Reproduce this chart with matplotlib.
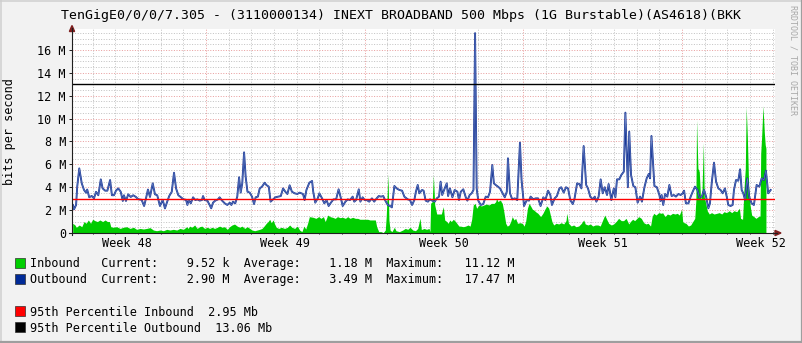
import numpy as np
import matplotlib
matplotlib.use("Agg")
import matplotlib.pyplot as plt
from matplotlib.lines import Line2D
from matplotlib.patches import Rectangle, Polygon

# ---------------- data (time in days since start of week 48, values in Mbit/s) -------------
out_day = [1.13, 1.18, 1.27, 1.32, 1.41, 1.52, 1.62, 1.71, 1.76, 1.85, 1.96, 2.06, 2.15, 2.25, 2.36,
           2.44, 2.55, 2.65, 2.77, 2.85, 2.94, 3.03, 3.13, 3.24, 3.33, 3.38, 3.47, 3.57, 3.68, 3.79,
           3.91, 4.01, 4.16, 4.27, 4.35, 4.44, 4.53, 4.65, 4.75, 4.85, 4.97, 5.09, 5.19, 5.29, 5.38,
           5.49, 5.59, 5.68, 5.78, 5.88, 6.0, 6.12, 6.18, 6.24, 6.33, 6.43, 6.53, 6.62, 6.72, 6.82,
           6.87, 6.94, 7.06, 7.16, 7.23, 7.31, 7.41, 7.53, 7.6, 7.71, 7.83, 7.94, 8.05, 8.12, 8.19,
           8.29, 8.38, 8.46, 8.53, 8.6, 8.68, 8.75, 8.83, 8.93, 9.03, 9.12, 9.19, 9.29, 9.37, 9.47,
           9.59, 9.66, 9.77, 9.85, 9.96, 10.06, 10.18, 10.3, 10.4, 10.5, 10.59, 10.69, 10.79, 10.91,
           11.03, 11.13, 11.28, 11.35, 11.43, 11.49, 11.56, 11.68, 11.73, 11.82, 11.93, 12.0, 12.12,
           12.22, 12.32, 12.41, 12.51, 12.62, 12.74, 12.85, 12.94, 13.03, 13.15, 13.25, 13.35, 13.47,
           13.54, 13.62, 13.74, 13.81, 13.91, 14.0, 14.09, 14.2, 14.32, 14.42, 14.53, 14.62, 14.72,
           14.82, 14.91, 15.02, 15.12, 15.2, 15.31, 15.41, 15.53, 15.65, 15.75, 15.9, 16.0, 16.09,
           16.19, 16.26, 16.34, 16.41, 16.53, 16.6, 16.69, 16.79, 16.88, 16.98, 17.09, 17.18, 17.28,
           17.35, 17.42, 17.53, 17.62, 17.68, 17.76, 17.87, 17.97, 18.09, 18.16, 18.24, 18.35, 18.46,
           18.53, 18.63, 18.72, 18.8, 18.87, 18.94, 19.01, 19.12, 19.23, 19.34, 19.44, 19.53, 19.63,
           19.7, 19.78, 19.88, 19.97, 20.07, 20.18, 20.27, 20.32, 20.41, 20.51, 20.62, 20.73, 20.85,
           20.92, 21.03, 21.15, 21.25, 21.32, 21.44, 21.54, 21.65, 21.76, 21.88, 21.97, 22.09, 22.19,
           22.26, 22.38, 22.48, 22.59, 22.67, 22.78, 22.88, 22.97, 23.07, 23.18, 23.26, 23.37, 23.47,
           23.56, 23.66, 23.77, 23.85, 23.95, 24.06, 24.15, 24.22, 24.32, 24.41, 24.5, 24.59, 24.69,
           24.76, 24.88, 24.99, 25.06, 25.13, 25.23, 25.32, 25.43, 25.5, 25.61, 25.67, 25.75, 25.85,
           25.94, 26.04, 26.15, 26.23, 26.34, 26.44, 26.53, 26.59, 26.65, 26.78, 26.89, 27.0, 27.05,
           27.1, 27.17, 27.25, 27.35, 27.44, 27.54, 27.64, 27.73, 27.84, 27.94, 28.03, 28.09, 28.17,
           28.28, 28.38, 28.47, 28.57, 28.68, 28.76, 28.87, 28.97, 29.06, 29.16, 29.23, 29.31, 29.41,
           29.5, 29.6, 29.7, 29.79, 29.89, 29.97, 30.04, 30.14, 30.23, 30.29, 30.38, 30.48, 30.56,
           30.63, 30.7, 30.78, 30.88, 30.96, 31.07, 31.17, 31.29, 31.41, 31.51, 31.61, 31.7, 31.8,
           31.91]
out_val = [2.45, 2.07, 2.45, 4.05, 5.65, 4.34, 3.76, 3.52, 3.8, 3.12, 3.24, 3.03, 3.6, 3.3, 4.69,
           3.9, 3.7, 3.7, 4.63, 3.3, 3.3, 3.7, 3.9, 3.6, 2.8, 3.3, 2.8, 3.38, 3.15, 3.3,
           3.15, 2.95, 2.9, 2.36, 3.0, 3.8, 3.15, 4.34, 3.38, 3.3, 2.36, 2.9, 2.15, 2.75, 3.24,
           3.6, 5.27, 3.9, 3.3, 3.15, 2.95, 2.9, 2.45, 2.9, 2.59, 3.12, 2.88, 2.94, 2.83, 2.88,
           3.23, 2.88, 2.83, 2.45, 2.16, 2.65, 2.83, 2.94, 3.12, 2.83, 2.59, 2.45, 2.65, 2.45, 2.74,
           2.59, 3.18, 4.87, 3.53, 4.34, 7.05, 4.92, 3.61, 3.53, 3.18, 2.53, 3.12, 3.18, 3.9, 4.05,
           4.4, 4.2, 4.05, 2.74, 2.94, 3.12, 3.18, 3.23, 3.9, 3.61, 3.41, 4.17, 3.61, 3.47,
           3.41, 3.53, 3.41, 2.88, 3.76, 4.05, 4.4, 4.55, 3.61, 2.65, 3.03, 3.47, 3.03,
           2.59, 2.88, 2.36, 2.65, 2.94, 2.94, 3.82, 3.12, 2.36, 2.74, 2.94, 2.88, 3.18,
           2.74, 2.88, 3.82, 2.74, 3.12, 2.88, 2.88, 2.74, 3.03, 2.74, 3.03, 3.23, 3.18,
           3.23, 2.83, 2.45, 2.36, 2.24, 4.11, 3.9, 3.76, 3.7, 3.18, 2.94, 2.88, 2.45,
           2.88, 3.61, 4.2, 3.47, 3.76, 3.7, 2.83, 2.74, 2.94, 2.83, 2.74, 3.03, 3.18,
           4.49, 3.32, 3.9, 4.34, 3.23, 3.9, 3.12, 3.76, 3.61, 2.88, 3.61, 3.82, 3.12,
           2.83, 3.32, 3.47, 3.76, 17.47, 3.9, 2.83, 2.45, 2.53, 3.18, 3.12, 3.61, 5.94,
           4.34, 4.2, 4.05, 3.9, 3.53, 3.12, 3.61, 6.53, 3.47, 2.94, 3.03, 2.88, 7.9,
           4.63, 2.36, 2.88, 2.83, 3.18, 2.94, 3.03, 3.03, 2.36, 3.12, 2.88, 3.7, 3.32,
           2.45, 3.03, 3.23, 3.9, 4.0, 3.53, 4.0, 3.9, 2.88, 2.53, 3.03, 4.34, 4.28,
           3.9, 7.6, 4.2, 3.9, 3.18, 2.94, 3.18, 2.74, 3.18, 4.69, 3.47, 4.0, 3.32,
           4.28, 2.88, 3.9, 3.12, 4.69, 4.69, 5.07, 5.36, 10.52, 4.0, 8.86, 5.07, 4.11,
           4.0, 2.65, 3.18, 2.74, 4.0, 4.78, 5.16, 4.78, 8.48, 4.11, 4.0, 3.32, 2.8,
           3.32, 2.45, 3.41, 3.18, 4.2, 3.23, 3.32, 3.18, 3.41, 3.32, 3.47, 3.7, 2.59,
           2.59, 3.18, 3.61, 4.05, 3.76, 3.12, 3.18, 3.76, 3.18, 2.16, 2.59, 4.4, 6.15,
           4.49, 3.9, 3.76, 3.47, 3.9, 3.18, 2.45, 2.36, 2.45, 3.76, 4.63, 4.57, 5.57,
           3.76, 3.47, 2.88, 4.78, 3.18, 2.59, 2.45, 4.2, 4.05, 4.78, 4.63, 5.45, 3.47,
           3.76]

in_day = [1.12, 1.22, 1.28, 1.41, 1.52, 1.62, 1.71, 1.81, 1.91, 2.0, 2.1, 2.21, 2.32, 2.44, 2.55,
          2.65, 2.74, 2.8, 2.91, 3.06, 3.21, 3.35, 3.5, 3.65, 3.8, 3.94, 4.09, 4.24, 4.38, 4.53,
          4.68, 4.82, 4.97, 5.12, 5.27, 5.41, 5.56, 5.71, 5.85, 6.0, 6.15, 6.21, 6.28, 6.38, 6.5,
          6.61, 6.72, 6.82, 6.94, 7.06, 7.16, 7.27, 7.38, 7.5, 7.6, 7.71, 7.82, 7.94, 8.04, 8.15,
          8.26, 8.38, 8.48, 8.59, 8.71, 8.82, 8.93, 9.03, 9.15, 9.26, 9.37, 9.47, 9.56, 9.66, 9.74,
          9.81, 9.88, 9.96, 10.03, 10.1, 10.21, 10.32, 10.47, 10.59, 10.69, 10.79, 10.91, 11.03,
          11.13, 11.23, 11.32, 11.4, 11.49, 11.56, 11.73, 11.85, 11.97, 12.07, 12.18, 12.26, 12.37,
          12.47, 12.59, 12.7, 12.8, 12.91, 13.03, 13.15, 13.25, 13.35, 13.47, 13.59, 13.69, 13.79,
          13.91, 14.03, 14.13, 14.23, 14.35, 14.47, 14.53, 14.62, 14.72, 14.82, 14.91, 14.95, 15.03,
          15.07, 15.12, 15.2, 15.31, 15.38, 15.53, 15.68, 15.79, 15.9, 16.0, 16.12, 16.24, 16.34,
          16.44, 16.5, 16.62, 16.73, 16.84, 16.88, 16.91, 16.98, 17.03, 17.09, 17.18, 17.28, 17.38,
          17.47, 17.53, 17.62, 17.68, 17.76, 17.82, 17.91, 18.01, 18.09, 18.16, 18.23, 18.35, 18.45,
          18.56, 18.65, 18.72, 18.79, 18.87, 18.94, 19.04, 19.15, 19.26, 19.38, 19.48, 19.59, 19.71,
          19.78, 19.82, 19.88, 19.97, 20.07, 20.14, 20.22, 20.29, 20.37, 20.44, 20.51, 20.59, 20.66,
          20.74, 20.85, 20.95, 21.03, 21.1, 21.18, 21.25, 21.32, 21.4, 21.47, 21.54, 21.64, 21.76,
          21.86, 21.97, 22.04, 22.12, 22.19, 22.26, 22.34, 22.44, 22.56, 22.67, 22.78, 22.88, 22.92,
          22.99, 23.11, 23.22, 23.32, 23.44, 23.56, 23.66, 23.73, 23.85, 23.95, 24.06, 24.17, 24.29,
          24.39, 24.5, 24.59, 24.69, 24.76, 24.88, 24.98, 25.09, 25.2, 25.32, 25.42, 25.53, 25.65,
          25.72, 25.82, 25.91, 26.01, 26.09, 26.2, 26.31, 26.41, 26.5, 26.61, 26.68, 26.75, 26.85,
          26.97, 27.09, 27.14, 27.25, 27.35, 27.47, 27.58, 27.69, 27.79, 27.88, 27.98, 28.03, 28.09,
          28.17, 28.28, 28.38, 28.47, 28.56, 28.61, 28.64, 28.7, 28.76, 28.82, 28.88, 28.94, 28.98,
          29.06, 29.11, 29.2, 29.3, 29.41, 29.53, 29.64, 29.75, 29.85, 29.97, 30.08, 30.19, 30.29,
          30.41, 30.53, 30.58, 30.67, 30.73, 30.79, 30.83, 30.88, 30.94, 31.0, 31.07, 31.17, 31.26,
          31.36, 31.44, 31.47, 31.51, 31.57, 31.63, 31.67, 31.7]
in_val = [0.85, 0.7, 0.5, 0.7, 0.55, 1.0, 0.85, 1.14, 0.85, 1.2, 1.08, 1.0, 1.14, 1.0, 1.14,
          1.0, 1.0, 0.55, 0.5, 0.55, 0.4, 0.5, 0.55, 0.4, 0.5, 0.32, 0.4, 0.35, 0.4, 0.47,
          0.26, 0.2, 0.26, 0.2, 0.32, 0.26, 0.32, 0.26, 0.4, 0.32, 0.55, 0.4, 0.6, 0.5, 0.7,
          0.4, 0.55, 0.6, 0.4, 0.5, 0.4, 0.5, 0.4, 0.5, 0.6, 0.5, 0.55, 0.32, 0.55, 0.7,
          0.78, 0.6, 0.5, 0.6, 0.4, 0.55, 0.4, 0.26, 0.2, 0.26, 0.32, 0.4, 0.6, 0.85, 1.0,
          1.2, 0.9, 1.14, 0.78, 0.5, 0.4, 0.5, 0.4, 0.5, 0.7, 0.5, 0.4, 0.6,
          0.26, 0.12, 0.6, 0.35, 0.9, 1.43, 1.37, 1.28, 1.43, 1.28, 1.43, 1.0, 1.57,
          1.43, 1.37, 1.28, 1.43, 1.34, 1.37, 1.28, 1.43, 1.28, 1.37, 1.28, 1.28, 1.2,
          1.2, 1.2, 1.2, 1.14, 1.14, 1.14, 0.55, 0.12, 0.12, 0.03, 0.26, 1.43, 5.16,
          1.14, 0.26, 0.12, 0.5, 0.2, 0.12, 0.26, 0.4, 0.32, 0.5, 0.26, 0.2, 0.4,
          1.3, 0.3, 0.4, 0.32, 0.4, 0.12, 2.6, 2.74, 5.07, 2.45, 1.66, 1.66, 1.66,
          2.3, 1.14, 1.0, 0.85, 1.14, 1.0, 1.2, 1.0, 0.78, 0.6, 0.6, 0.55, 0.6,
          0.7, 0.6, 1.2, 2.45, 2.59, 2.16, 2.45, 2.36, 2.45, 2.53, 2.45, 2.59, 2.59,
          2.74, 3.03, 2.74, 2.88, 2.59, 1.86, 0.85, 0.6, 0.7, 1.0, 1.43, 1.14, 1.28,
          0.85, 0.9, 0.85, 0.6, 1.0, 2.16, 2.59, 2.36, 2.07, 2.0, 1.86, 1.72, 1.43,
          1.72, 2.16, 2.36, 2.16, 1.57, 1.0, 0.7, 0.85, 0.79, 0.9, 0.79, 1.08, 1.72,
          0.85, 0.61, 0.7, 0.55, 0.61, 0.85, 1.14, 0.79, 0.7, 0.79, 0.61, 0.7, 0.7,
          0.61, 1.14, 1.57, 1.14, 0.85, 0.7, 0.79, 1.0, 1.28, 1.08, 1.08, 1.28, 0.79,
          1.0, 1.2, 1.08, 1.28, 1.43, 1.28, 0.9, 0.79, 0.85, 0.61, 1.43, 1.72, 1.57,
          1.78, 1.72, 1.78, 1.43, 1.66, 1.57, 1.72, 1.66, 1.72, 1.57, 2.07, 0.99, 0.9,
          0.85, 0.61, 0.7, 0.99, 1.28, 2.88, 9.88, 5.65, 5.36, 2.88, 3.76, 7.9, 3.15,
          2.45, 1.95, 1.66, 1.78, 1.66, 1.72, 1.78, 1.66, 1.86, 1.78, 1.95, 1.78, 1.95,
          1.86, 2.16, 1.28, 1.2, 3.76, 5.65, 11.04, 8.42, 4.0, 2.45, 1.57, 1.43, 1.28,
          1.43, 1.49, 6.96, 8.4, 11.12, 8.77, 7.69, 7.4]

pct95_in = 2.95
pct95_out = 13.06
week_names = ["Week 48", "Week 49", "Week 50", "Week 51", "Week 52"]
week_starts = [0, 7, 14, 21, 28]
ytick_vals = [0, 2, 4, 6, 8, 10, 12, 14, 16]
ytick_labels = ["0", "2 M", "4 M", "6 M", "8 M", "10 M", "12 M", "14 M", "16 M"]

title = "TenGigE0/0/0/7.305 - (3110000134) INEXT BROADBAND 500 Mbps (1G Burstable)(AS4618)(BKK"
stats_names = ["Inbound", "Outbound"]
stats_current = [(9.52, "k"), (2.90, "M")]
stats_average = [(1.18, "M"), (3.49, "M")]
stats_maximum = [(11.12, "M"), (17.47, "M")]
pct_labels = ["95th Percentile Inbound  2.95 Mb", "95th Percentile Outbound  13.06 Mb"]

# ---------------- figure -------------------------------------------------------
W, H = 803, 343
fig = plt.figure(figsize=(W / 100, H / 100), dpi=100)
fig.patch.set_facecolor('#F2F2F2')
MONO = 'DejaVu Sans Mono'

def fx(x):
    return x / W

def fy(y):
    return 1 - y / H

L, R, T, B = 72, 775, 29, 233
ax = fig.add_axes([fx(L), fy(B), (R - L) / W, (B - T) / H])
ax.set_facecolor('white')
ax.set_xlim(1.0896, 32.10)
ax.set_ylim(0, (B - T) / 11.44)
for s in ax.spines.values():
    s.set_visible(False)

# grid (light dotted)
gcol = '#C4C4C4'
mcol = '#E9A0A0'
dot = (0, (1, 1.6))
for v in np.arange(0.5, 17.6, 0.5):
    if abs(v % 2) < 1e-9:
        ax.axhline(v, color=mcol, lw=0.72, ls=dot, zorder=0.5)
    else:
        ax.axhline(v, color=gcol, lw=0.72, ls=dot, zorder=0.4)
for d in range(2, 33):
    if d % 7 == 0:
        ax.axvline(d, color=mcol, lw=0.72, ls=dot, zorder=0.5)
    else:
        ax.axvline(d, color=gcol, lw=0.72, ls=dot, zorder=0.4)

# data
ax.fill_between(in_day, 0, in_val, color='#00CC00', lw=0, zorder=2)
ax.plot(out_day, out_val, color='#1A3896', lw=1.35, zorder=3, solid_joinstyle='round')
ax.plot(out_day, out_val, color='#8198D2', lw=0.3, zorder=3.1, solid_joinstyle='round')
ax.axhline(pct95_in, color='#FF0000', lw=1.0, zorder=4)
ax.axhline(pct95_out, color='#000000', lw=1.0, zorder=4)

# ticks
ax.set_yticks(ytick_vals)
ax.set_yticklabels(ytick_labels, fontfamily=MONO, fontsize=8.5)
ax.tick_params(axis='y', length=2.2, width=0.7, pad=2.2, color='#1F1F1F')
ax.set_xticks([d for d in range(2, 33)])
ax.set_xticklabels([])
ax.tick_params(axis='x', length=1.5, width=0.7, color='#1F1F1F', direction='inout')
for name, ws in zip(week_names, week_starts):
    ax.text(ws + 3.5, -0.068, name, transform=ax.get_xaxis_transform(), ha='center',
            va='baseline', fontfamily=MONO, fontsize=8.5, clip_on=False)

# axes lines with arrows (figure pixel coords)
axc = '#1F1F1F'
arc = '#7F1F1F'
fig.add_artist(Line2D([fx(L), fx(L)], [fy(B + 2), fy(28)], color=axc, lw=0.8))
fig.add_artist(Line2D([fx(L - 3), fx(777)], [fy(B), fy(B)], color=axc, lw=0.8))
fig.add_artist(Polygon([(fx(L), fy(25.5)), (fx(L - 2.6), fy(31.5)), (fx(L + 2.6), fy(31.5))],
                       closed=True, color=arc, transform=fig.transFigure))
fig.add_artist(Polygon([(fx(781), fy(B)), (fx(775), fy(B - 2.6)), (fx(775), fy(B + 2.6))],
                       closed=True, color=arc, transform=fig.transFigure))

# texts
fig.text(fx(401.5), fy(19), title, ha='center', va='baseline', fontfamily=MONO, fontsize=9.5)
fig.text(fx(10), fy(131.5), "bits per second", rotation=90, ha='center', va='center',
         fontfamily=MONO, fontsize=8.5)
fig.text(fx(793), fy(60), "RRDTOOL / TOBI OETIKER", rotation=270, ha='center', va='center',
         fontfamily=MONO, fontsize=6.0, color='#A8A8A8')

# legend
legend_cols = ['#00CF00', '#002A97']
row_base = [267.5, 283.5]
for i in range(2):
    cv, cu = stats_current[i]
    av, au = stats_average[i]
    mv, mu = stats_maximum[i]
    s = f"{stats_names[i]:<10}Current:{cv:8.2f} {cu}  Average:{av:8.2f} {au}  Maximum:{mv:8.2f} {mu}"
    fig.text(fx(30), fy(row_base[i]), s, ha='left', va='baseline', fontfamily=MONO, fontsize=8.5)
    fig.add_artist(Rectangle((fx(15), fy(row_base[i] + 0.5)), 10 / W, 10 / H, facecolor=legend_cols[i],
                             edgecolor='#303030', lw=0.5, transform=fig.transFigure))
pct_cols = ['#FF0000', '#000000']
pct_base = [316.0, 331.6]
for i in range(2):
    fig.text(fx(30), fy(pct_base[i]), pct_labels[i], ha='left', va='baseline', fontfamily=MONO, fontsize=8.5)
    fig.add_artist(Rectangle((fx(15), fy(pct_base[i] + 0.3)), 10 / W, 10 / H, facecolor=pct_cols[i],
                             edgecolor='#303030', lw=0.5, transform=fig.transFigure))

# 3D border
fig.add_artist(Line2D([0, 1], [fy(0.75), fy(0.75)], color='#CFCFCF', lw=1.1))
fig.add_artist(Line2D([fx(0.75), fx(0.75)], [0, 1], color='#CFCFCF', lw=1.1))
fig.add_artist(Line2D([0, 1], [fy(H - 1), fy(H - 1)], color='#9E9E9E', lw=1.6))
fig.add_artist(Line2D([fx(W - 1), fx(W - 1)], [0, 1], color='#9E9E9E', lw=1.6))

fig.savefig('out.png', dpi=100, facecolor=fig.get_facecolor())
